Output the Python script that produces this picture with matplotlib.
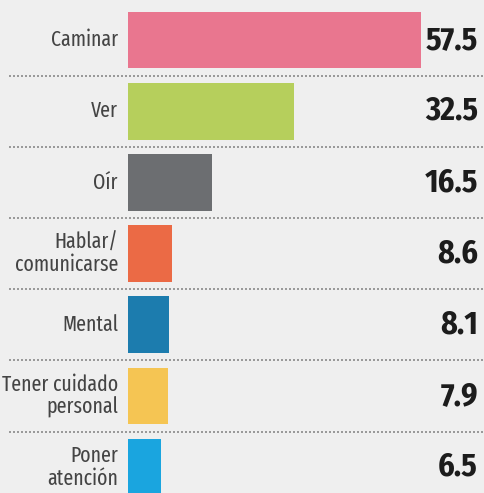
import matplotlib
matplotlib.use("Agg")
import matplotlib.pyplot as plt

categories = ["Caminar", "Ver", "Oír", "Hablar/\ncomunicarse", "Mental",
              "Tener cuidado\npersonal", "Poner\natención"]
values = [57.5, 32.5, 16.5, 8.6, 8.1, 7.9, 6.5]
value_labels = ["57.5", "32.5", "16.5", "8.6", "8.1", "7.9", "6.5"]
colors = ["#e9768f", "#b6cf5c", "#6c6e71", "#eb6a45", "#1c7cae", "#f5c553", "#1aa5df"]

LABEL_FONT = ["Fira Sans Extra Condensed", "DejaVu Sans"]
VALUE_FONT = ["Fira Sans Condensed", "DejaVu Sans"]

W, H = 484, 493
fig = plt.figure(figsize=(W / 100, H / 100), dpi=100)
fig.patch.set_facecolor("#efefef")
ax = fig.add_axes([0, 0, 1, 1])
ax.set_facecolor("#efefef")

x0 = 128
scale = 5.1
pitch = 71.2
c0 = 40
ax.set_xlim(-x0 / scale, (W - x0) / scale)
ax.set_ylim((H - c0) / pitch, -c0 / pitch)

ys = list(range(len(values)))
ax.barh(ys, values, height=0.8, color=colors, zorder=2)

for y, cat, lab in zip(ys, categories, value_labels):
    ax.text(-10 / scale, y, cat, ha="right", va="center", fontsize=15.5,
            family=LABEL_FONT, color="#444444", linespacing=1.05)
    ax.text((478 - x0) / scale, y, lab, ha="right", va="center", fontsize=23,
            family=VALUE_FONT, weight="bold", color="#1c1c1c")

for y in ys[:-1]:
    ax.axhline(y + 0.5, xmin=0.018, xmax=1, color="#8a8a8a", lw=1.2,
               linestyle=(0, (1.2, 1.2)), zorder=1)

ax.axis("off")
fig.savefig("out.png", dpi=100, facecolor=fig.get_facecolor())
